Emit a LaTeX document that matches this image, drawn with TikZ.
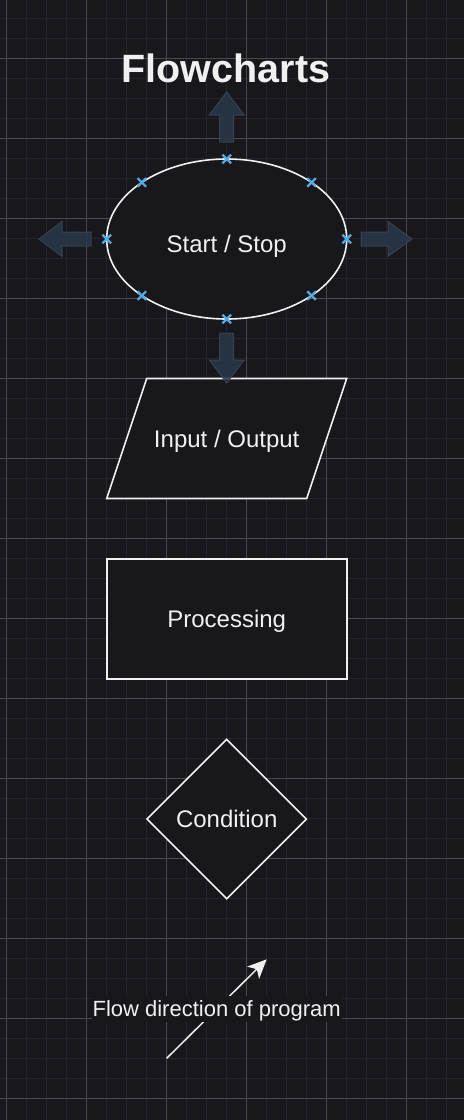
\documentclass[tikz,border=0pt]{standalone}
\usepackage{fontspec}
\setmainfont{Liberation Sans}
\usetikzlibrary{shapes.geometric,arrows.meta,calc}
\definecolor{bg}{RGB}{24,23,28}
\definecolor{gridminor}{RGB}{37,36,42}
\definecolor{gridmajor}{RGB}{74,73,79}
\definecolor{ink}{RGB}{240,240,240}
\definecolor{hint}{RGB}{40,56,74}
\definecolor{hintline}{RGB}{56,68,82}
\definecolor{mark}{RGB}{86,170,228}
\begin{document}
\begin{tikzpicture}[x=1pt,y=-1pt,
  shapetext/.style={text=ink, font=\fontsize{24}{28}\selectfont, text height=17.2pt, text depth=0pt, inner sep=0pt},
  shapebox/.style={shapetext, draw=ink, line width=1.6pt, fill=bg},
  hintarrow/.style={fill=hint, draw=hintline, line width=1pt, fill opacity=0.85, draw opacity=0.9},
  xmark/.style={draw=mark, line width=2.2pt},
  flowlabel/.style={fill=bg, text=ink, font=\fontsize{22}{26}\selectfont, text height=15.8pt, text depth=0pt, inner xsep=1pt, inner ysep=5pt}]
\fill[bg] (0,0) rectangle (464,1120);
\useasboundingbox (0,0) rectangle (464,1120);
% grid
\foreach \i in {0,...,22} \draw[gridminor, line width=1.3pt] (6.5+20*\i,0) -- (6.5+20*\i,1120);
\foreach \i in {0,...,54} \draw[gridminor, line width=1.3pt] (0,18.3+20*\i) -- (464,18.3+20*\i);
\foreach \i in {0,...,5} \draw[gridmajor, line width=0.9pt] (6.5+80*\i,0) -- (6.5+80*\i,1120);
\foreach \i in {0,...,13} \draw[gridmajor, line width=0.9pt] (0,58.3+80*\i) -- (464,58.3+80*\i);
% title
\node[font=\fontsize{39.5}{44}\selectfont\bfseries, text=ink, anchor=base, inner sep=0pt] (title) at (226,82.7) {Flowcharts};
% shapes
\node[shapebox, ellipse, minimum width=240pt, minimum height=160pt,
      label={[shapetext, yshift=-5pt]center:Start / Stop}] (s) at (226.7,239) {};
\coordinate (ioc) at (226.7,438.5);
\draw[draw=ink, line width=1.6pt, fill=bg] ($(ioc)+(-80,-60)$) -- ($(ioc)+(120,-60)$) -- ($(ioc)+(80,60)$) -- ($(ioc)+(-120,60)$) -- cycle;
\node[shapetext] (io) at (ioc) {Input / Output};
\node[shapebox, rectangle, minimum width=240pt, minimum height=120pt] (p) at (226.7,619) {Processing};
\node[shapebox, diamond, minimum width=160pt, minimum height=160pt] (c) at (226.7,819) {Condition};
% hint arrows
\draw[hintarrow] (219.7,142) -- (219.7,115) -- (209.2,115) -- (226.7,92) -- (244.2,115) -- (233.7,115) -- (233.7,142) -- cycle;
\draw[hintarrow] (219.7,333) -- (219.7,360) -- (209.2,360) -- (226.7,383) -- (244.2,360) -- (233.7,360) -- (233.7,333) -- cycle;
\draw[hintarrow] (91,232) -- (62,232) -- (62,221.5) -- (39,239) -- (62,256.5) -- (62,246) -- (91,246) -- cycle;
\draw[hintarrow] (361,232) -- (388,232) -- (388,221.5) -- (412,239) -- (388,256.5) -- (388,246) -- (361,246) -- cycle;
% connection markers
\foreach \a in {0,45,...,315}
  \draw[xmark] ($(s.center)+({120*cos(\a)},{-80*sin(\a)})$) +(-4.3,-4.3) -- +(4.3,4.3) +(-4.3,4.3) -- +(4.3,-4.3);
% flow direction arrow
\coordinate (fa) at (166.7,1058.3);
\coordinate (fb) at (266.7,959.3);
\draw[ink, line width=1.5pt, -{Stealth[length=19pt,width=17pt,inset=5pt]}] (fa) -- node[flowlabel] (fl) {Flow direction of program} (fb);
\end{tikzpicture}
\end{document}
